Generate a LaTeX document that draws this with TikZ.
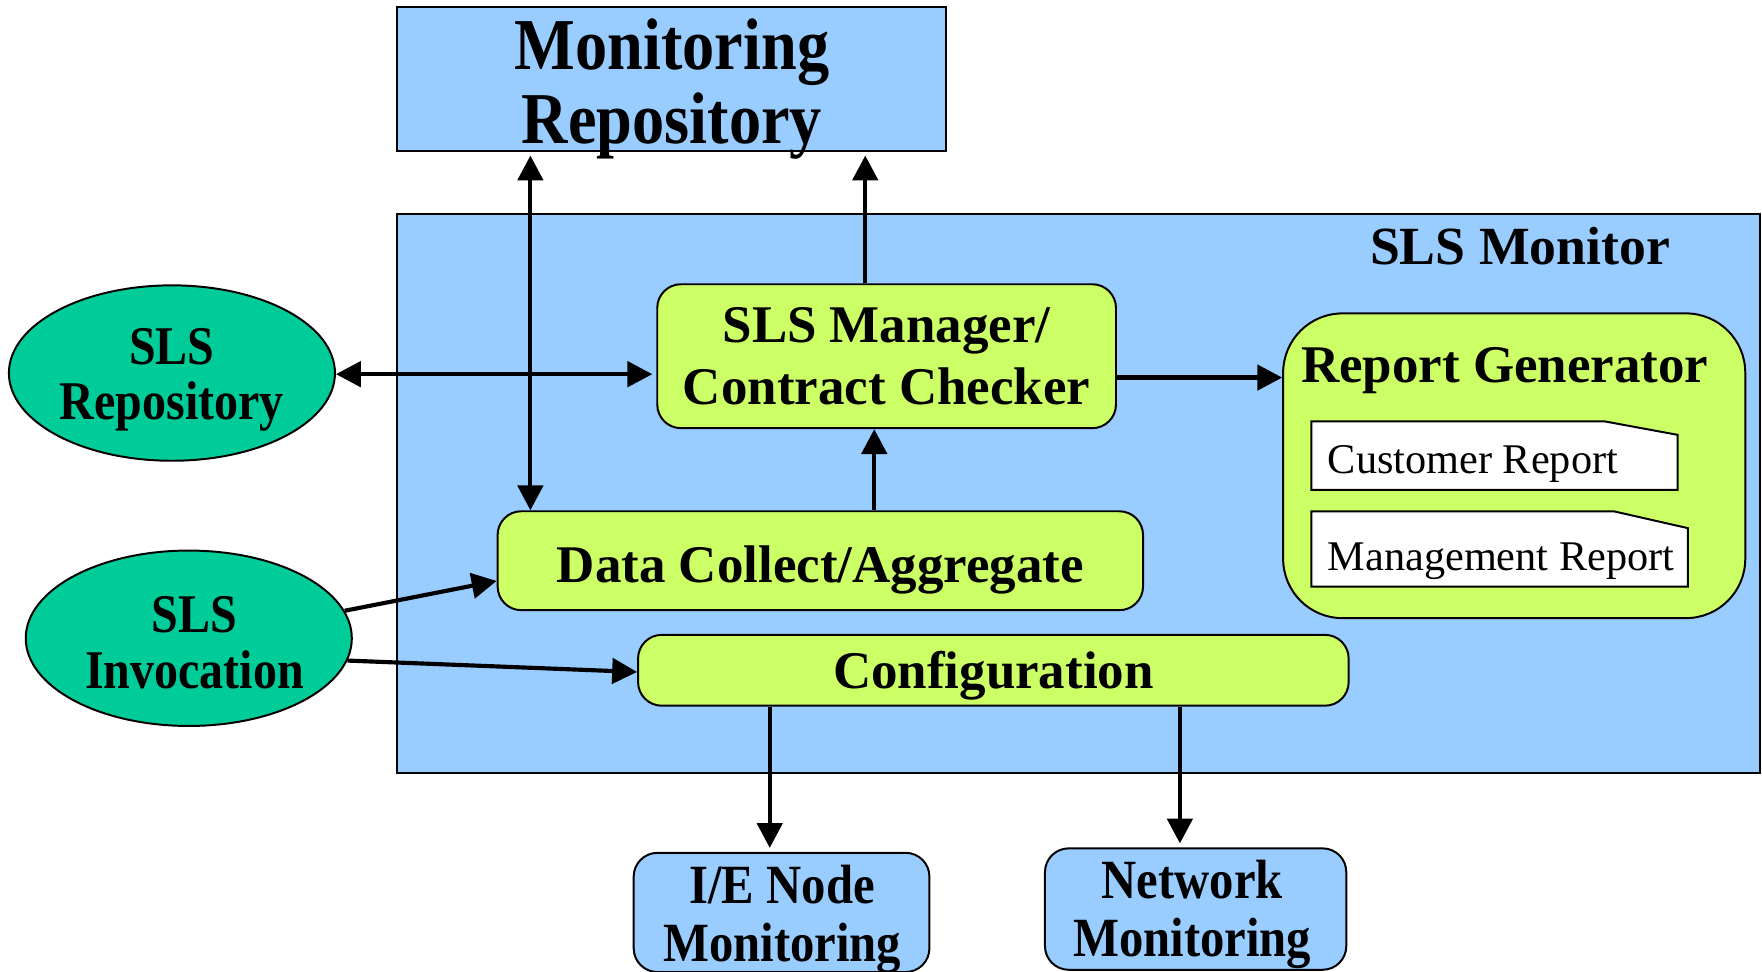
\documentclass[tikz,border=0pt]{standalone}
\usepackage{fontspec}
\setmainfont{Liberation Serif}
\newfontfamily\condfont[FakeStretch=0.88]{Liberation Serif}
\usetikzlibrary{shapes.geometric,arrows.meta}
\definecolor{lblue}{HTML}{99CCFF}
\definecolor{lgreen}{HTML}{CCFF66}
\definecolor{teal}{HTML}{00CC99}
\begin{document}
\begin{tikzpicture}[x=0.01cm,y=-0.01cm,
  sqbox/.style={draw=black,line width=0.5pt,fill=lblue,rectangle,inner sep=0pt},
  gbox/.style={draw=black,line width=0.5pt,fill=lgreen,rectangle,rounded corners=6pt,inner sep=0pt},
  bbox/.style={draw=black,line width=0.5pt,fill=lblue,rectangle,rounded corners=6pt,inner sep=0pt},
  oval/.style={draw=black,line width=0.5pt,fill=teal,ellipse,inner sep=0pt,minimum width=2.9cm,minimum height=1.56cm},
  doc/.style={draw=black,line width=0.5pt,fill=white},
  mainbf/.style={font=\fontsize{13.4}{15.9}\selectfont\bfseries,align=center,inner sep=0pt},
  condbf/.style={font=\condfont\fontsize{14}{14.6}\selectfont\bfseries,align=center,inner sep=0pt},
  conn/.style={line width=1.05pt,-{Triangle[length=6.3pt,width=6.4pt]}},
  conn2/.style={line width=1.05pt,{Triangle[length=6.3pt,width=6.4pt]}-{Triangle[length=6.3pt,width=6.4pt]}}
]
\useasboundingbox (0,0) rectangle (1568,865);
% boxes
\node[sqbox,minimum width=4.89cm,minimum height=1.28cm] (mr) at (597.5,70) {};
\node[font=\condfont\fontsize{18.5}{18.8}\selectfont\bfseries,align=center,inner sep=0pt] (mrT) at (598,79) {Monitoring\\Repository};
\node[sqbox,minimum width=12.12cm,minimum height=4.97cm] (mon) at (960,439.5) {};
\node[font=\fontsize{13.6}{16}\selectfont\bfseries,anchor=base east,inner sep=0pt] (monT) at (1487,235) {SLS Monitor};
\node[gbox,minimum width=4.08cm,minimum height=1.28cm,mainbf] (sm) at (789,317) {SLS Manager/\\Contract Checker};
\node[gbox,rounded corners=15pt,minimum width=4.11cm,minimum height=2.71cm] (rg) at (1347.5,414.5) {};
\node[mainbf,anchor=base] (rgT) at (1339,340) {Report Generator};
\draw[doc] (1167,375) -- (1428,375) -- (1493,387) -- (1493,436) -- (1167,436) -- cycle;
\node[anchor=base west,inner sep=0pt,font=\fontsize{10.7}{12}\selectfont] (cr) at (1181,421) {Customer Report};
\draw[doc] (1167,455) -- (1436,455) -- (1502,470) -- (1502,522) -- (1167,522) -- cycle;
\node[anchor=base west,inner sep=0pt,font=\fontsize{10.7}{12}\selectfont] (mgr) at (1181,508) {Management Report};
\node[gbox,minimum width=5.74cm,minimum height=0.88cm] (dc) at (730,499) {};
\node[mainbf,anchor=base] (dcT) at (730,518) {Data Collect/Aggregate};
\node[gbox,minimum width=6.32cm,minimum height=0.63cm] (cf) at (884,596.5) {};
\node[mainbf,anchor=base] (cfT) at (884,613) {Configuration};
\node[bbox,minimum width=2.63cm,minimum height=1.06cm] (ie) at (695.5,812) {};
\node[condbf] (ieT) at (696,818) {I/E Node\\Monitoring};
\node[bbox,minimum width=2.68cm,minimum height=1.08cm] (nm) at (1064,809) {};
\node[condbf] (nmT) at (1061,814) {Network\\Monitoring};
% ellipses
\node[oval] (sr) at (153,332) {};
\node[font=\condfont\fontsize{13.8}{13.7}\selectfont\bfseries,align=center,inner sep=0pt] (srT) at (153,338) {SLS\\Repository};
\node[oval] (si) at (168,568) {};
\node[font=\condfont\fontsize{13.8}{14.2}\selectfont\bfseries,align=center,inner sep=0pt] (siT) at (173,572) {SLS\\Invocation};
% helper coordinates
\coordinate (x472) at (472,0);
\coordinate (x770) at (770,0);
\coordinate (x778) at (778,0);
\coordinate (x685) at (685,0);
\coordinate (x1050) at (1050,0);
\coordinate (y333) at (0,333);
\coordinate (y336) at (0,336);
\coordinate (y517) at (0,517);
\coordinate (y598) at (0,598);
% connectors
\draw[conn2,shorten <=1pt] (x472 |- mr.south) -- (x472 |- dc.north);
\draw[conn,shorten >=1pt] (x770 |- sm.north) -- (x770 |- mr.south);
\draw[conn2] (sr.east |- y333) -- ([xshift=-1pt]sm.west |- y333);
\draw[conn] (sm.east |- y336) -- (rg.west |- y336);
\draw[conn] (x778 |- dc.north) -- (x778 |- sm.south);
\draw[conn] (si.10) -- (dc.west |- y517);
\draw[conn] (si.-8) -- (cf.west |- y598);
\draw[conn,shorten >=1pt] (x685 |- cf.south) -- (x685 |- ie.north);
\draw[conn,shorten >=1pt] (x1050 |- cf.south) -- (x1050 |- nm.north);
\end{tikzpicture}
\end{document}
